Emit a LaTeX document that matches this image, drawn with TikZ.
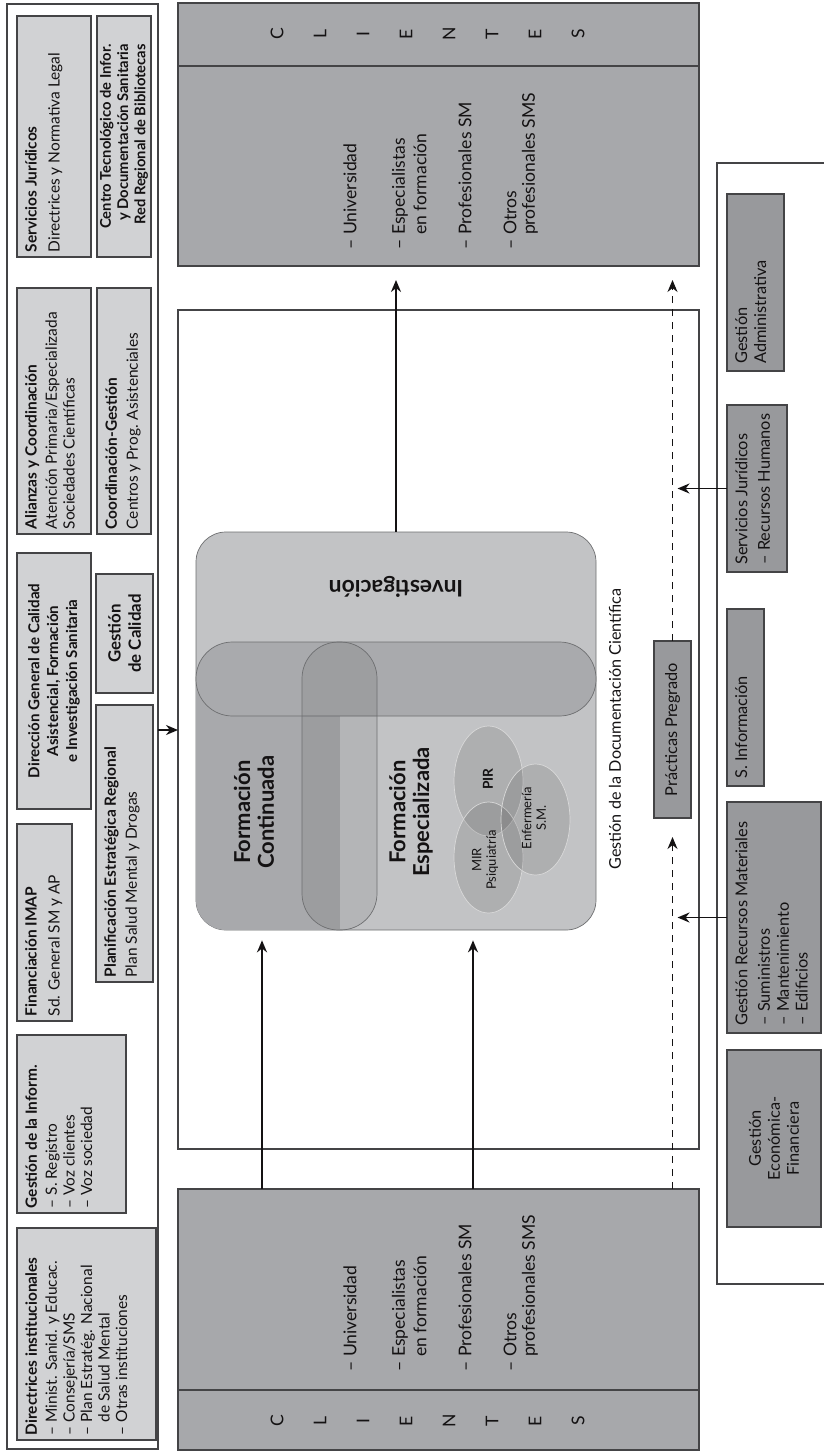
\documentclass[tikz,border=0pt]{standalone}
\usepackage{fontspec}
\setmainfont{Lato}
\usetikzlibrary{arrows.meta,shapes.geometric}
\definecolor{lboxc}{HTML}{D1D2D4}
\definecolor{clic}{HTML}{A7A8AB}
\definecolor{rboxc}{HTML}{98999C}
\definecolor{bigc}{HTML}{C2C3C5}
\definecolor{bandc}{HTML}{A9AAAD}
\definecolor{fcc}{HTML}{A8A9AC}
\definecolor{linec}{HTML}{444446}
\definecolor{shapeline}{HTML}{6E6F71}
\definecolor{txtc}{HTML}{141213}
\newcommand\mkbox[6]{\node[#2, minimum width={(#5-#3)*0.02cm}, minimum height={(#6-#4)*0.02cm}] (#1) at ({(#3+#5)/2},{(#4+#6)/2}) {};}
\begin{document}
\begin{tikzpicture}[x=0.02cm, y=-0.02cm,
  boxbase/.style={draw=linec, line width=0.6pt, inner sep=0pt, outer sep=0pt},
  lbox/.style={boxbase, fill=lboxc},
  rbox/.style={boxbase, fill=rboxc},
  cbox/.style={boxbase, fill=clic},
  wbox/.style={boxbase, fill=white},
  ltxt/.style={rotate=90, text=txtc, font=\fontsize{8.8}{10}\selectfont, align=left, inner xsep=2.5pt, inner ysep=4.5pt},
  rtxt/.style={rotate=90, text=txtc, font=\fontsize{9.3}{10.8}\selectfont, align=left, inner xsep=4pt, inner ysep=4.5pt},
  ctxt/.style={rotate=90, text=txtc, font=\fontsize{10}{12}\selectfont, inner sep=0pt, anchor=west},
  letter/.style={rotate=90, text=txtc, font=\fontsize{10}{12}\selectfont, inner sep=0pt},
  ftxt/.style={rotate=90, text=txtc, font=\fontsize{12.5}{13.5}\bfseries, align=center, inner sep=0pt},
  vtxt/.style={rotate=90, text=txtc, font=\fontsize{7.4}{8.2}\selectfont, align=center, inner sep=0pt},
  venn/.style={ellipse, draw=white!70!gray, line width=0.4pt, fill=black, fill opacity=0.1, inner sep=0pt},
  pill/.style={draw=shapeline, line width=0.4pt, rounded corners=0.73cm, inner sep=0pt},
  conn/.style={line width=1.1pt, draw=txtc, -{Stealth[length=2.4mm, width=2mm]}},
  dconn/.style={line width=0.6pt, draw=txtc, dash pattern=on 1.5mm off 1.1mm, -{Stealth[length=2.4mm, width=2mm]}},
]
\useasboundingbox (0,0) rectangle (824,1453);
\fill[white] (0,0) rectangle (824,1453);

% ---------- left panel ----------
\mkbox{lpanel}{wbox}{7}{4}{158}{1449}
\mkbox{b1}{lbox}{17}{16}{91}{257}
\node[ltxt, anchor=north west] (b1t) at (b1.south west) {\textbf{Servicios Jurídicos}\\[3pt]Directrices y Normativa Legal};
\mkbox{b2}{lbox}{97}{16}{151}{257}
\node[ltxt, align=right, font=\fontsize{8.4}{9.8}\bfseries] (b2t) at (b2) {Centro Tecnológico de Infor.\\y Documentación Sanitaria\\Red Regional de Bibliotecas};
\mkbox{b3}{lbox}{17}{288}{91}{534}
\node[ltxt, anchor=north west] (b3t) at (b3.south west) {\textbf{Alianzas y Coordinación}\\[1.5pt]Atención Primaria/Especializada\\Sociedades Científicas};
\mkbox{b4}{lbox}{97}{288}{151}{534}
\node[ltxt, anchor=north west] (b4t) at (b4.south west) {\textbf{Coordinación-Gestión}\\[2pt]Centros y Prog. Asistenciales};
\mkbox{b5}{lbox}{17}{553}{91}{809}
\node[ltxt, align=center, font=\fontsize{8.6}{10.8}\bfseries] (b5t) at (b5) {Dirección General de Calidad\\Asistencial, Formación\\e Investigación Sanitaria};
\mkbox{b6}{lbox}{96}{574}{153}{693}
\node[ltxt, align=center, font=\fontsize{9.6}{11.5}\bfseries] (b6t) at (b6) {Gestión\\de Calidad};
\mkbox{b7}{lbox}{96}{705}{153}{982}
\node[ltxt, anchor=north west] (b7t) at (b7.south west) {\textbf{Planificación Estratégica Regional}\\[2pt]Plan Salud Mental y Drogas};
\mkbox{b8}{lbox}{17}{824}{72}{1021}
\node[ltxt, anchor=north west] (b8t) at (b8.south west) {\textbf{Financiación IMAP}\\[3pt]Sd. General SM y AP};
\mkbox{b9}{lbox}{17}{1035}{126}{1213}
\node[ltxt, anchor=north west] (b9t) at (b9.south west) {\textbf{Gestión de la Inform.}\\[1.5pt]– S. Registro\\– Voz clientes\\– Voz sociedad};
\mkbox{b10}{lbox}{17}{1228}{156}{1440}
\node[ltxt, anchor=north west] (b10t) at (b10.south west) {\textbf{Directrices institucionales}\\[1.5pt]– Minist. Sanid. y Educac.\\– Consejería/SMS\\– Plan Estratég. Nacional\\\phantom{– }de Salud Mental\\– Otras instituciones};

% ---------- middle column ----------
\mkbox{cltop}{cbox}{178}{3}{699}{266}
\draw[line width=0.6pt, draw=linec] (178,66) -- (699,66);
\foreach \l [count=\i from 0] in {C,L,I,E,N,T,E,S}
  \node[letter] (lt\i) at ({277+43*\i},34) {\l};
\node[ctxt] (tu) at (350,250) {– Universidad};
\node[ctxt] (te) at (400,250) {– Especialistas};
\node[ctxt] (te2) at (420,250) {\phantom{– }en formación};
\node[ctxt] (tp) at (465,250) {– Profesionales SM};
\node[ctxt] (to) at (510,250) {– Otros};
\node[ctxt] (to2) at (530,250) {\phantom{– }profesionales SMS};

\mkbox{white}{wbox}{178}{310}{699}{1149}
\mkbox{clbot}{cbox}{178}{1189}{699}{1450}
\draw[line width=0.6pt, draw=linec] (178,1390) -- (699,1390);
\foreach \l [count=\i from 0] in {C,L,I,E,N,T,E,S}
  \node[letter] (lb\i) at ({277+43*\i},1421) {\l};
\node[ctxt] (bu) at (350,1372) {– Universidad};
\node[ctxt] (be) at (400,1372) {– Especialistas};
\node[ctxt] (be2) at (420,1372) {\phantom{– }en formación};
\node[ctxt] (bp) at (465,1372) {– Profesionales SM};
\node[ctxt] (bo) at (510,1372) {– Otros};
\node[ctxt] (bo2) at (530,1372) {\phantom{– }profesionales SMS};

% ---------- central shapes ----------
\node[draw=shapeline, fill=bigc, line width=0.4pt, rounded corners=0.6cm, inner sep=0pt,
      minimum width=400*0.02cm, minimum height=398*0.02cm] (inv) at (396,731) {};
\begin{scope}
  \clip[rounded corners=0.6cm] (196,532) rectangle (596,930);
  \fill[fcc] (196,680) rectangle (340,930);
\end{scope}
\node[pill, fill=bandc, minimum width=400*0.02cm, minimum height=74*0.02cm] (band) at (396,679) {};
\node[pill, fill=black, fill opacity=0.07, minimum width=75*0.02cm, minimum height=288*0.02cm] (vp) at (339.5,786) {};
\node[venn, minimum width=69*0.02cm, minimum height=110*0.02cm] (pir) at (488.5,781) {};
\node[venn, minimum width=69*0.02cm, minimum height=111*0.02cm] (mir) at (488.5,857.5) {};
\node[venn, minimum width=69*0.02cm, minimum height=111*0.02cm] (enf) at (535.5,819.5) {};
\node[vtxt, font=\fontsize{7.8}{8.2}\bfseries] (pirt) at (488,779) {PIR};
\node[vtxt] (mirt) at (485,860) {MIR\\Psiquiatría};
\node[vtxt] (enft) at (534,818) {Enfermería\\S.M.};
\node[rotate=180, text=txtc, font=\fontsize{13}{15}\bfseries, inner sep=0pt] (invt) at (396,587) {Investigación};
\node[ftxt] (fct) at (254,812) {Formación\\Continuada};
\node[ftxt] (fet) at (411,812) {Formación\\Especializada};
\node[rotate=90, text=txtc, font=\fontsize{9.2}{11}\selectfont, inner sep=0pt] (gdc) at (615,729) {Gestión de la Documentación Científica};

\mkbox{prac}{rbox}{654}{641}{691}{818}
\node[rtxt, align=center] (pract) at (prac) {Prácticas Pregrado};

% ---------- right panel ----------
\draw[line width=0.6pt, draw=linec] (824,163) -- (717,163) -- (717,1284) -- (824,1284);
\mkbox{radm}{rbox}{727}{194}{784}{371}
\node[rtxt, anchor=north west] (radmt) at (radm.south west) {Gestión\\Administrativa};
\mkbox{rsj}{rbox}{727}{405}{787}{572}
\node[rtxt, anchor=north west] (rsjt) at (rsj.south west) {Servicios Jurídicos\\[2pt]– Recursos Humanos};
\mkbox{rsi}{rbox}{727}{609}{764}{786}
\node[rtxt, anchor=north west] (rsit) at (rsi.south west) {S. Información};
\mkbox{rrm}{rbox}{727}{802}{821}{1033}
\node[rtxt, anchor=north west] (rrmt) at (rrm.south west) {Gestión Recursos Materiales\\[2pt]– Suministros\\– Mantenimiento\\– Edificios};
\mkbox{ref}{rbox}{727}{1050}{821}{1227}
\node[rtxt, align=center] (reft) at (ref) {Gestión\\Económica-\\Financiera};

% ---------- connectors ----------
\coordinate (fcx) at (262,0);
\coordinate (fex) at (473,0);
\draw[conn] (lpanel.east |- 0,730) -- (white.west |- 0,730);
\draw[conn, shorten >=0.28cm] (inv.north) -- (inv.north |- cltop.south);
\draw[conn, shorten >=0.2cm] (clbot.north -| fcx) -- (inv.south -| fcx);
\draw[conn, shorten >=0.2cm] (clbot.north -| fex) -- (inv.south -| fex);
\draw[dconn, shorten >=0.38cm] (clbot.north -| prac.center) -- (prac.south);
\draw[dconn, shorten >=0.28cm] (prac.north) -- (cltop.south -| prac.center);
\draw[conn, shorten >=0.1cm] (rsj.west) -- (rsj.west -| prac.center);
\draw[conn, shorten >=0.1cm] (rrm.west) -- (rrm.west -| prac.center);
\end{tikzpicture}
\end{document}
